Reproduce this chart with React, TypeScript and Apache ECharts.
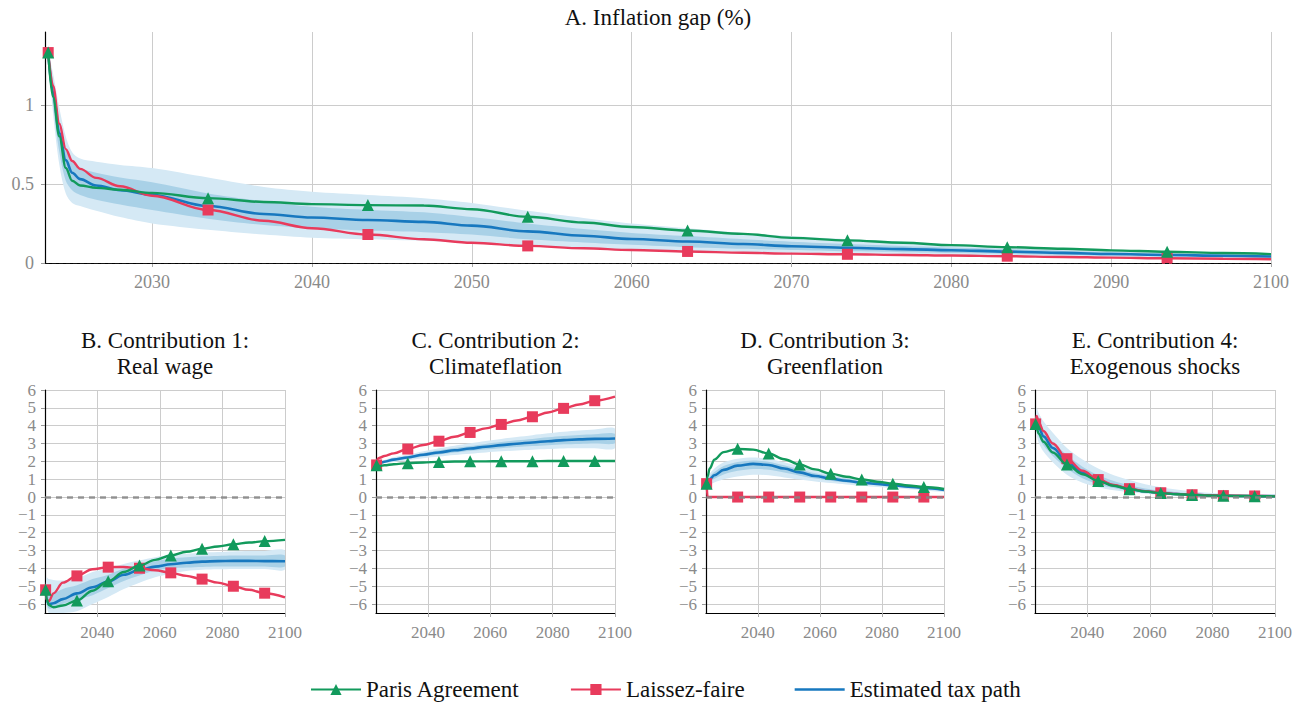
import { useEffect, useRef } from 'react';
import * as echarts from 'echarts';

const FONT = 'Liberation Serif, serif';
const GREEN = '#129a5c';
const RED = '#e83b5c';
const BLUE = '#1778bf';
const BAND_OUTER = '#d5e9f5';
const BAND_INNER = '#a9d1e7';
const GRID_COLOR = '#cccccc';
const LABEL_COLOR = '#8a8a8a';

const X_MIN = 2023.3;
const X_MAX = 2100;
const MARKER_YEARS = [2023.5, 2033.5, 2043.5, 2053.5, 2063.5, 2073.5, 2083.5, 2093.5];

const TOP_X_TICKS = [2030, 2040, 2050, 2060, 2070, 2080, 2090, 2100];
const TOP_Y_TICKS = [0, 0.5, 1];
const SMALL_X_TICKS = [2040, 2060, 2080, 2100];
const SMALL_Y_TICKS = [-6, -5, -4, -3, -2, -1, 0, 1, 2, 3, 4, 5, 6];

// Panel A: inflation gap (%)
const yearsA = [2023.5, 2023.8, 2024.2, 2024.6, 2025, 2025.5, 2026.5, 2028, 2030, 2033.5, 2037, 2040, 2043.5, 2047, 2050, 2053.5, 2057, 2060, 2063.5, 2067, 2070, 2073.5, 2077, 2080, 2083.5, 2087, 2090, 2093.5, 2097, 2100];
const parisA = [1.33, 1.05, 0.8, 0.6, 0.52, 0.49, 0.475, 0.463, 0.443, 0.41, 0.386, 0.372, 0.366, 0.363, 0.34, 0.292, 0.256, 0.228, 0.205, 0.184, 0.159, 0.143, 0.128, 0.113, 0.1, 0.09, 0.08, 0.071, 0.063, 0.056];
const laissezA = [1.33, 1.12, 0.88, 0.72, 0.645, 0.595, 0.538, 0.485, 0.425, 0.335, 0.267, 0.22, 0.18, 0.15, 0.128, 0.108, 0.093, 0.082, 0.073, 0.065, 0.059, 0.055, 0.051, 0.047, 0.043, 0.038, 0.034, 0.03, 0.027, 0.024];
const taxA = [1.33, 1.08, 0.82, 0.65, 0.57, 0.53, 0.49, 0.46, 0.43, 0.36, 0.31, 0.288, 0.272, 0.26, 0.236, 0.2, 0.172, 0.152, 0.136, 0.12, 0.106, 0.096, 0.088, 0.081, 0.072, 0.064, 0.057, 0.051, 0.046, 0.041];
const taxOuterLoA = [1.33, 0.95, 0.62, 0.44, 0.38, 0.36, 0.33, 0.29, 0.25, 0.21, 0.18, 0.16, 0.15, 0.14, 0.125, 0.11, 0.095, 0.085, 0.077, 0.07, 0.064, 0.058, 0.053, 0.05, 0.046, 0.042, 0.038, 0.035, 0.032, 0.029];
const taxInnerLoA = [1.33, 1.0, 0.7, 0.52, 0.46, 0.43, 0.4, 0.37, 0.335, 0.28, 0.24, 0.22, 0.205, 0.195, 0.18, 0.15, 0.13, 0.115, 0.1, 0.09, 0.082, 0.074, 0.068, 0.063, 0.057, 0.051, 0.047, 0.043, 0.039, 0.035];
const taxInnerHiA = [1.33, 1.15, 0.9, 0.73, 0.64, 0.6, 0.57, 0.54, 0.51, 0.44, 0.39, 0.355, 0.335, 0.32, 0.29, 0.25, 0.215, 0.19, 0.17, 0.15, 0.135, 0.12, 0.108, 0.098, 0.088, 0.078, 0.07, 0.063, 0.056, 0.05];
const taxOuterHiA = [1.33, 1.2, 0.98, 0.8, 0.7, 0.66, 0.64, 0.62, 0.6, 0.54, 0.48, 0.45, 0.43, 0.41, 0.38, 0.33, 0.285, 0.25, 0.22, 0.19, 0.17, 0.15, 0.135, 0.12, 0.105, 0.093, 0.082, 0.073, 0.065, 0.058];

// Panels B-E share one time grid
const yearsSmall = [2023.5, 2023.8, 2024.5, 2026, 2029, 2033.5, 2038.5, 2043.5, 2048.5, 2053.5, 2058.5, 2063.5, 2068.5, 2073.5, 2078.5, 2083.5, 2088.5, 2093.5, 2100];

// B. Real wage
const parisB = [-5.2, -5.7, -6.05, -6.18, -6.08, -5.8, -5.25, -4.72, -4.2, -3.84, -3.52, -3.28, -3.07, -2.9, -2.77, -2.65, -2.55, -2.47, -2.4];
const laissezB = [-5.2, -5.75, -5.85, -5.4, -4.8, -4.42, -4.05, -3.93, -3.92, -3.99, -4.1, -4.25, -4.42, -4.6, -4.8, -5.0, -5.2, -5.39, -5.62];
const taxB = [-5.2, -5.75, -6.0, -5.95, -5.72, -5.4, -5.06, -4.74, -4.36, -4.08, -3.9, -3.77, -3.68, -3.62, -3.59, -3.58, -3.58, -3.59, -3.6];
const taxOuterLoB = [-5.2, -6.1, -6.5, -6.5, -6.5, -6.4, -6.0, -5.6, -5.15, -4.8, -4.5, -4.3, -4.15, -4.08, -4.05, -4.03, -4.03, -4.04, -4.06];
const taxInnerLoB = [-5.2, -5.95, -6.25, -6.2, -6.0, -5.75, -5.5, -5.1, -4.7, -4.4, -4.12, -4.0, -3.95, -3.92, -3.9, -3.9, -3.9, -3.9, -3.9];
const taxInnerHiB = [-5.2, -5.3, -5.5, -5.4, -5.15, -4.95, -4.6, -4.35, -4.0, -3.8, -3.6, -3.45, -3.37, -3.32, -3.3, -3.28, -3.28, -3.28, -3.28];
const taxOuterHiB = [-5.2, -4.5, -4.6, -4.65, -4.68, -4.55, -4.2, -4.0, -3.75, -3.55, -3.37, -3.25, -3.18, -3.12, -3.08, -3.05, -3.03, -3.02, -3.0];

// C. Climateflation
const parisC = [1.78, 1.72, 1.74, 1.78, 1.84, 1.9, 1.94, 1.97, 1.99, 2.0, 2.0, 2.01, 2.01, 2.01, 2.02, 2.02, 2.02, 2.02, 2.02];
const laissezC = [1.8, 2.15, 2.2, 2.3, 2.45, 2.69, 2.92, 3.13, 3.38, 3.62, 3.85, 4.07, 4.29, 4.5, 4.74, 4.97, 5.19, 5.4, 5.63];
const taxC = [1.8, 1.85, 1.9, 1.98, 2.1, 2.22, 2.37, 2.5, 2.62, 2.72, 2.82, 2.91, 2.99, 3.06, 3.13, 3.19, 3.23, 3.26, 3.28];
const taxOuterLoC = [1.8, 1.8, 1.82, 1.88, 1.97, 2.06, 2.17, 2.27, 2.36, 2.43, 2.5, 2.56, 2.61, 2.65, 2.69, 2.72, 2.73, 2.74, 2.73];
const taxInnerLoC = [1.8, 1.83, 1.86, 1.93, 2.04, 2.14, 2.27, 2.38, 2.49, 2.58, 2.66, 2.74, 2.8, 2.86, 2.91, 2.96, 2.98, 3.0, 3.01];
const taxInnerHiC = [1.8, 1.87, 1.94, 2.03, 2.16, 2.3, 2.47, 2.62, 2.75, 2.86, 2.98, 3.08, 3.18, 3.26, 3.35, 3.42, 3.48, 3.52, 3.55];
const taxOuterHiC = [1.8, 1.9, 1.98, 2.08, 2.23, 2.38, 2.57, 2.73, 2.88, 3.01, 3.14, 3.26, 3.37, 3.47, 3.57, 3.66, 3.73, 3.78, 3.83];

// D. Greenflation
const parisD = [0.75, 1.15, 1.6, 2.1, 2.52, 2.7, 2.66, 2.44, 2.12, 1.82, 1.55, 1.31, 1.14, 0.99, 0.86, 0.75, 0.65, 0.56, 0.45];
const laissezD = [0.75, 0, 0, 0, 0, 0, 0, 0, 0, 0, 0, 0, 0, 0, 0, 0, 0, 0, 0];
const taxD = [0.75, 0.85, 1.0, 1.22, 1.52, 1.76, 1.86, 1.8, 1.6, 1.38, 1.18, 1.03, 0.91, 0.81, 0.73, 0.66, 0.58, 0.51, 0.4];
const taxOuterLoD = [0.75, 0.65, 0.7, 0.82, 1.0, 1.15, 1.25, 1.22, 1.1, 0.98, 0.87, 0.78, 0.7, 0.63, 0.56, 0.5, 0.44, 0.38, 0.3];
const taxInnerLoD = [0.75, 0.75, 0.85, 1.02, 1.27, 1.47, 1.57, 1.53, 1.37, 1.2, 1.04, 0.92, 0.82, 0.73, 0.66, 0.6, 0.53, 0.46, 0.37];
const taxInnerHiD = [0.75, 0.95, 1.15, 1.4, 1.74, 1.96, 2.05, 1.98, 1.78, 1.55, 1.33, 1.16, 1.02, 0.9, 0.81, 0.72, 0.64, 0.56, 0.45];
const taxOuterHiD = [0.75, 1.05, 1.3, 1.6, 1.95, 2.15, 2.22, 2.15, 1.95, 1.72, 1.5, 1.3, 1.14, 1.0, 0.9, 0.8, 0.7, 0.61, 0.5];

// E. Exogenous shocks
const parisE = [4.1, 3.85, 3.55, 3.1, 2.5, 1.82, 1.28, 0.9, 0.63, 0.44, 0.31, 0.22, 0.16, 0.12, 0.09, 0.07, 0.06, 0.05, 0.04];
const laissezE = [4.1, 4.55, 4.2, 3.7, 3.0, 2.15, 1.47, 0.98, 0.68, 0.47, 0.33, 0.24, 0.17, 0.13, 0.1, 0.08, 0.07, 0.06, 0.05];
const taxE = [4.05, 4.2, 3.9, 3.4, 2.75, 1.98, 1.36, 0.93, 0.65, 0.45, 0.32, 0.23, 0.17, 0.12, 0.09, 0.08, 0.06, 0.05, 0.05];
const taxOuterLoE = [4.05, 3.5, 3.05, 2.55, 1.95, 1.25, 0.8, 0.55, 0.38, 0.27, 0.19, 0.13, 0.09, 0.07, 0.05, 0.04, 0.03, 0.03, 0.02];
const taxInnerLoE = [4.05, 3.8, 3.4, 2.9, 2.3, 1.6, 1.05, 0.72, 0.5, 0.35, 0.25, 0.17, 0.12, 0.09, 0.07, 0.05, 0.04, 0.04, 0.03];
const taxInnerHiE = [4.05, 4.5, 4.2, 3.75, 3.1, 2.35, 1.7, 1.22, 0.9, 0.66, 0.48, 0.36, 0.27, 0.2, 0.15, 0.12, 0.09, 0.07, 0.06];
const taxOuterHiE = [4.05, 5.0, 4.7, 4.25, 3.6, 2.75, 2.1, 1.6, 1.22, 0.95, 0.72, 0.55, 0.42, 0.32, 0.24, 0.19, 0.15, 0.12, 0.09];

const SMALL_TITLES = [
  ['B. Contribution 1:', 'Real wage'],
  ['C. Contribution 2:', 'Climateflation'],
  ['D. Contribution 3:', 'Greenflation'],
  ['E. Contribution 4:', 'Exogenous shocks'],
];

type Panel = {
  years: number[];
  paris: number[];
  laissez: number[];
  tax: number[];
  outerLo: number[];
  innerLo: number[];
  innerHi: number[];
  outerHi: number[];
};

const panels: Panel[] = [
  { years: yearsA, paris: parisA, laissez: laissezA, tax: taxA, outerLo: taxOuterLoA, innerLo: taxInnerLoA, innerHi: taxInnerHiA, outerHi: taxOuterHiA },
  { years: yearsSmall, paris: parisB, laissez: laissezB, tax: taxB, outerLo: taxOuterLoB, innerLo: taxInnerLoB, innerHi: taxInnerHiB, outerHi: taxOuterHiB },
  { years: yearsSmall, paris: parisC, laissez: laissezC, tax: taxC, outerLo: taxOuterLoC, innerLo: taxInnerLoC, innerHi: taxInnerHiC, outerHi: taxOuterHiC },
  { years: yearsSmall, paris: parisD, laissez: laissezD, tax: taxD, outerLo: taxOuterLoD, innerLo: taxInnerLoD, innerHi: taxInnerHiD, outerHi: taxOuterHiD },
  { years: yearsSmall, paris: parisE, laissez: laissezE, tax: taxE, outerLo: taxOuterLoE, innerLo: taxInnerLoE, innerHi: taxInnerHiE, outerHi: taxOuterHiE },
];

// Plot rectangles: [left, top, width, height]
const GRID_RECTS = [
  [45, 32, 1226, 231],
  [45, 390, 240, 223],
  [376, 390, 239, 223],
  [706, 390, 238, 223],
  [1035, 390, 240, 223],
];

const pairs = (xs: number[], ys: number[]) => xs.map((x, i) => [x, ys[i]]);

const markerSize = (size: number) => (val: number[]) =>
  MARKER_YEARS.includes(val[0]) ? size : 0;

const minusFormat = (v: number) => (v < 0 ? '\u2212' + Math.abs(v) : String(v));

// Shaded uncertainty band: one filled polygon between the lower and upper bounds
function bandSeries(idx: number, xs: number[], lo: number[], hi: number[], color: string, z: number) {
  return {
    type: 'custom',
    xAxisIndex: idx,
    yAxisIndex: idx,
    silent: true,
    clip: true,
    z,
    data: xs.map((x, i) => [x, lo[i], hi[i]]),
    encode: { x: 0, y: [1, 2] },
    renderItem: (params: any, api: any) => {
      if (params.dataIndex !== 0) return null;
      const upper = xs.map((x, i) => api.coord([x, hi[i]]));
      const lower = xs.map((x, i) => api.coord([x, lo[i]])).reverse();
      return {
        type: 'polygon',
        shape: { points: upper.concat(lower), smooth: 0.3 },
        style: { fill: color, stroke: null },
      };
    },
  };
}

function panelSeries(idx: number, p: Panel) {
  const line = {
    type: 'line',
    xAxisIndex: idx,
    yAxisIndex: idx,
    smooth: 0.35,
    smoothMonotone: 'x',
    showAllSymbol: true,
  };
  const small = idx > 0;
  return [
    bandSeries(idx, p.years, p.outerLo, p.outerHi, BAND_OUTER, 1),
    bandSeries(idx, p.years, p.innerLo, p.innerHi, BAND_INNER, 2),
    {
      ...line,
      name: 'Estimated tax path',
      data: pairs(p.years, p.tax),
      symbol: 'none',
      lineStyle: { color: BLUE, width: 2.6 },
      itemStyle: { color: BLUE },
      z: 4,
    },
    {
      ...line,
      name: 'Laissez-faire',
      data: pairs(p.years, p.laissez),
      symbol: 'rect',
      symbolSize: markerSize(11),
      lineStyle: { color: RED, width: 2.4 },
      itemStyle: { color: RED },
      z: 5,
    },
    {
      ...line,
      name: 'Paris Agreement',
      data: pairs(p.years, p.paris),
      symbol: 'triangle',
      symbolSize: markerSize(12),
      lineStyle: { color: GREEN, width: 2.4 },
      itemStyle: { color: GREEN },
      z: 6,
    },
    {
      type: 'line',
      name: 'zero' + idx,
      xAxisIndex: idx,
      yAxisIndex: idx,
      data: [],
      silent: true,
      markLine: {
        silent: true,
        symbol: 'none',
        z: 10,
        animation: false,
        label: { show: false },
        lineStyle: small
          ? { color: '#858585', width: 2.6, type: [6, 5], opacity: 0.85 }
          : { color: '#111', width: 1.2, type: [4, 3] },
        data: [{ yAxis: 0 }],
      },
    },
  ];
}

function buildOption() {
  const grid = GRID_RECTS.map(([left, top, width, height]) => ({ left, top, width, height }));

  const xAxis = GRID_RECTS.map((_, i) => {
    const ticks = i === 0 ? TOP_X_TICKS : SMALL_X_TICKS;
    return {
      type: 'value',
      gridIndex: i,
      min: X_MIN,
      max: X_MAX,
      axisLine: { show: true, onZero: false, lineStyle: { color: '#000', width: 1.2 } },
      axisTick: { show: true, customValues: ticks, length: 4, lineStyle: { color: '#aaa' } },
      axisLabel: {
        customValues: ticks,
        formatter: (v: number) => String(v),
        color: LABEL_COLOR,
        fontFamily: FONT,
        fontSize: i === 0 ? 18 : 17,
        margin: i === 0 ? 10 : 11,
      },
      splitLine: { show: true, lineStyle: { color: GRID_COLOR, width: 1 } },
    };
  });

  const yAxis = GRID_RECTS.map((_, i) => {
    const top = i === 0;
    const ticks = top ? TOP_Y_TICKS : SMALL_Y_TICKS;
    return {
      type: 'value',
      gridIndex: i,
      min: top ? 0 : -6.5,
      max: top ? 1.46 : 6,
      axisLine: { show: true, onZero: false, lineStyle: { color: '#000', width: 1.2 } },
      axisTick: { show: true, customValues: ticks, length: 4, lineStyle: { color: '#999' } },
      axisLabel: {
        customValues: ticks,
        formatter: minusFormat,
        color: LABEL_COLOR,
        fontFamily: FONT,
        fontSize: top ? 18 : 17,
        margin: top ? 11 : 9,
      },
      splitLine: { show: true, lineStyle: { color: GRID_COLOR, width: 1 } },
    };
  });

  const series = panels.flatMap((p, i) => panelSeries(i, p));

  const titleStyle = {
    fontFamily: FONT,
    fontSize: 23,
    fill: '#111',
    align: 'center',
    verticalAlign: 'middle',
  };
  const graphic: any[] = [
    { type: 'text', x: 658, y: 17, style: { ...titleStyle, text: 'A. Inflation gap (%)' } },
  ];
  SMALL_TITLES.forEach(([l1, l2], i) => {
    const [left, , width] = GRID_RECTS[i + 1];
    const cx = left + width / 2;
    graphic.push({ type: 'text', x: cx, y: 340, style: { ...titleStyle, text: l1 } });
    graphic.push({ type: 'text', x: cx, y: 366, style: { ...titleStyle, text: l2 } });
  });

  return {
    animation: false,
    backgroundColor: '#ffffff',
    grid,
    xAxis,
    yAxis,
    series,
    graphic,
    legend: {
      data: [
        'Paris Agreement',
        'Laissez-faire',
        { name: 'Estimated tax path', icon: 'path://M0 0H50V2.6H0Z' },
      ],
      left: 305,
      top: 673,
      itemWidth: 50,
      itemHeight: 14,
      itemGap: 50,
      textStyle: { fontFamily: FONT, fontSize: 23, color: '#111' },
    },
  };
}

export default function App() {
  const ref = useRef<HTMLDivElement>(null);
  useEffect(() => {
    if (!ref.current) return;
    const chart = echarts.init(ref.current, null, { renderer: 'svg' });
    chart.setOption(buildOption() as any);
    return () => chart.dispose();
  }, []);
  return (
    <div
      ref={ref}
      style={{ position: 'absolute', left: 0, top: 0, width: 1304, height: 705, background: '#fff' }}
    />
  );
}
